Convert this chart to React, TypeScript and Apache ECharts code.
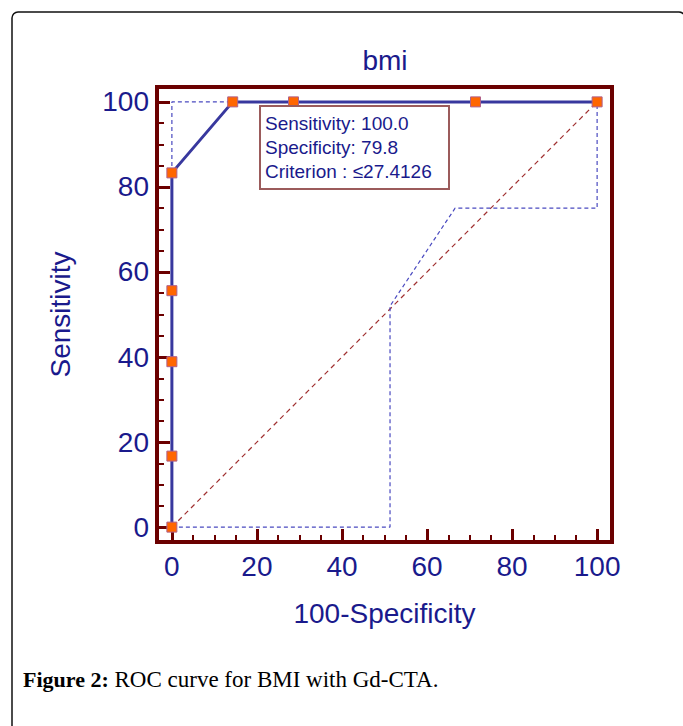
import React, { useEffect, useRef } from "react";
import * as echarts from "echarts";

// ROC curve points (100-Specificity, Sensitivity)
const rocX = [0, 0, 0, 0, 0, 14.3, 28.6, 71.4, 100];
const rocY = [0, 16.7, 38.9, 55.6, 83.3, 100, 100, 100, 100];
// Upper confidence bound
const upperX = [0, 0, 100];
const upperY = [83.3, 100, 100];
// Lower confidence bound
const lowerX = [0, 51.3, 51.3, 66.6, 100, 100];
const lowerY = [0, 0, 52.0, 75.0, 75.0, 100];
// Reference diagonal
const diagX = [0, 100];
const diagY = [0, 100];
// Axis ticks
const majorTicks = [0, 20, 40, 60, 80, 100];
const minorTicks = [5, 10, 15, 25, 30, 35, 45, 50, 55, 65, 70, 75, 85, 90, 95];
const axisMin = -3.5;
const axisMax = 103.5;
// Annotation and texts
const annotationLines = ["Sensitivity: 100.0", "Specificity: 79.8", "Criterion : \u226427.4126"];
const chartTitle = "bmi";
const xName = "100-Specificity";
const yName = "Sensitivity";
const captionBold = "Figure 2:";
const captionText = " ROC curve for BMI with Gd-CTA.";

const zip = (xs: number[], ys: number[]) => xs.map((x, i) => [x, ys[i]]);

const NAVY = "#1a1a8c";
const MAROON = "#6b0000";
const SANS = "'Liberation Sans', Arial, sans-serif";

export default function App() {
  const ref = useRef<HTMLDivElement>(null);
  useEffect(() => {
    if (!ref.current) return;
    const chart = echarts.init(ref.current, null, { renderer: "svg" });
    const base = {
      type: "value" as const,
      min: axisMin,
      max: axisMax,
      axisLine: { show: false, onZero: false },
      splitLine: { show: false },
      nameLocation: "middle" as const,
    };
    const majorAxis = (name: string, gap: number, margin: number) => ({
      ...base,
      name,
      nameGap: gap,
      nameTextStyle: { color: NAVY, fontSize: 28, fontFamily: SANS },
      axisTick: {
        show: true,
        inside: true,
        length: 13,
        customValues: majorTicks,
        lineStyle: { color: MAROON, width: 3 },
      },
      axisLabel: {
        show: true,
        customValues: majorTicks,
        color: NAVY,
        fontSize: 28,
        fontFamily: SANS,
        margin,
      },
    });
    const minorAxis = () => ({
      ...base,
      axisTick: {
        show: true,
        inside: true,
        length: 7,
        customValues: minorTicks,
        lineStyle: { color: MAROON, width: 2 },
      },
      axisLabel: { show: false },
    });
    chart.setOption({
      animation: false,
      backgroundColor: "#ffffff",
      grid: { left: 157, right: 71, top: 87, bottom: 184, containLabel: false },
      xAxis: [
        { ...majorAxis(xName, 57, 10), position: "bottom" },
        { ...minorAxis(), position: "bottom" },
      ],
      yAxis: [
        { ...majorAxis(yName, 83, 8), position: "left" },
        { ...minorAxis(), position: "left" },
      ],
      series: [
        {
          type: "line",
          data: zip(diagX, diagY),
          symbol: "none",
          clip: false,
          lineStyle: { color: "#a03030", width: 1.2, type: [5, 4] },
          z: 2,
        },
        {
          type: "line",
          data: zip(upperX, upperY),
          symbol: "none",
          clip: false,
          lineStyle: { color: "#4a4ac0", width: 1.2, type: [4, 3] },
          z: 3,
        },
        {
          type: "line",
          data: zip(lowerX, lowerY),
          symbol: "none",
          clip: false,
          lineStyle: { color: "#4a4ac0", width: 1.2, type: [4, 3] },
          z: 3,
        },
        {
          type: "line",
          data: zip(rocX, rocY),
          symbol: "rect",
          symbolSize: 10,
          showAllSymbol: true,
          clip: false,
          lineStyle: { color: "#38389e", width: 3 },
          itemStyle: { color: "#ff6600", borderColor: "#b0608a", borderWidth: 1 },
          z: 5,
        },
      ],
      graphic: [
        {
          type: "rect",
          shape: { x: 12, y: 12, width: 673, height: 760, r: 6 },
          style: { fill: "none", stroke: "#111111", lineWidth: 1.5 },
          silent: true,
          z: 0,
        },
        {
          type: "rect",
          shape: { x: 157, y: 87, width: 455, height: 455 },
          style: { fill: "none", stroke: MAROON, lineWidth: 4 },
          silent: true,
          z: 10,
        },
        {
          type: "rect",
          shape: { x: 260, y: 106, width: 189, height: 83 },
          style: { fill: "#ffffff", stroke: "#9b5b5b", lineWidth: 2 },
          silent: true,
          z: 11,
        },
        ...annotationLines.map((t, i) => ({
          type: "text",
          x: 265,
          y: 123 + i * 24,
          silent: true,
          z: 12,
          style: {
            text: t,
            fill: NAVY,
            font: `19px ${SANS}`,
            align: "left",
            verticalAlign: "middle",
          },
        })),
        {
          type: "text",
          x: 385,
          y: 60,
          silent: true,
          z: 12,
          style: {
            text: chartTitle,
            fill: NAVY,
            font: `28px ${SANS}`,
            align: "center",
            verticalAlign: "middle",
          },
        },
        {
          type: "text",
          x: 23,
          y: 679,
          silent: true,
          z: 12,
          style: {
            text: `{b|${captionBold}}{n|${captionText}}`,
            verticalAlign: "middle",
            align: "left",
            rich: {
              b: { fontFamily: "'Liberation Serif', serif", fontWeight: "bold", fontSize: 22, fill: "#000000" },
              n: { fontFamily: "'Liberation Serif', serif", fontSize: 23, fill: "#000000" },
            },
          },
        },
      ],
    });
    return () => chart.dispose();
  }, []);
  return (
    <div
      ref={ref}
      style={{ position: "absolute", left: 0, top: 0, width: 683, height: 726 }}
    />
  );
}
